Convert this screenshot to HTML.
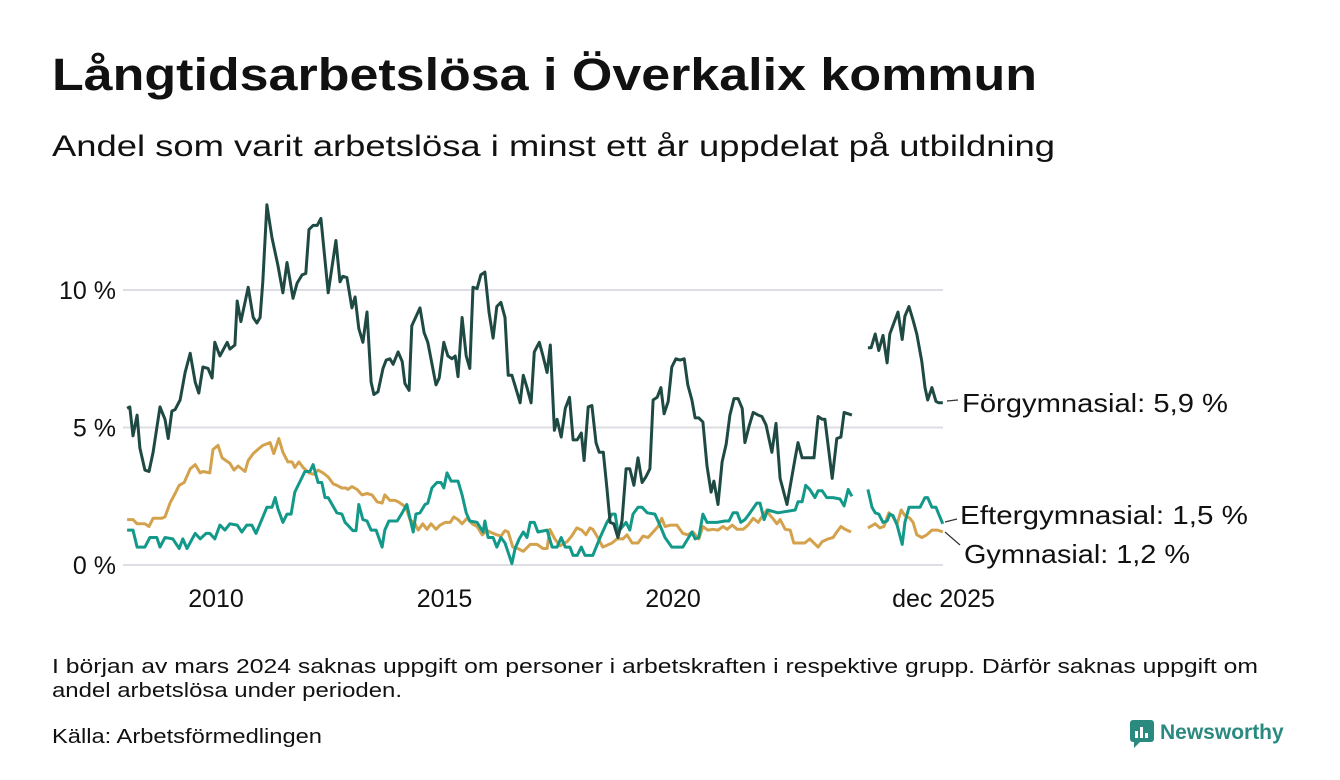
<!DOCTYPE html>
<html><head><meta charset="utf-8"><style>
html,body{margin:0;padding:0;background:#fff;}
svg{display:block;font-family:"Liberation Sans",sans-serif;}
</style></head><body>
<svg id="chart" width="1340" height="780" viewBox="0 0 1340 780">
<text x="52" y="90" font-size="45" font-weight="bold" fill="#111" textLength="985" lengthAdjust="spacingAndGlyphs">Långtidsarbetslösa i Överkalix kommun</text>
<text x="52" y="156" font-size="30" fill="#111" textLength="1003" lengthAdjust="spacingAndGlyphs">Andel som varit arbetslösa i minst ett år uppdelat på utbildning</text>
<g id="grid"></g>
<g id="yticks"></g>
<g id="xticks"></g>
<g id="series"></g>
<g>
<line x1="947" y1="401" x2="958" y2="400" stroke="#333" stroke-width="1.2"/>
<text x="962" y="412" font-size="26" fill="#111" textLength="266" lengthAdjust="spacingAndGlyphs">Förgymnasial: 5,9 %</text>
<line x1="945" y1="522" x2="957" y2="519" stroke="#333" stroke-width="1.2"/>
<text x="960" y="524" font-size="26" fill="#111" textLength="288" lengthAdjust="spacingAndGlyphs">Eftergymnasial: 1,5 %</text>
<line x1="945" y1="532" x2="960" y2="545" stroke="#333" stroke-width="1.2"/>
<text x="964" y="563" font-size="26" fill="#111" textLength="226" lengthAdjust="spacingAndGlyphs">Gymnasial: 1,2 %</text>
</g>
<text x="52" y="673" font-size="20" fill="#111" textLength="1206" lengthAdjust="spacingAndGlyphs">I början av mars 2024 saknas uppgift om personer i arbetskraften i respektive grupp. Därför saknas uppgift om</text>
<text x="52" y="697" font-size="20" fill="#111" textLength="350" lengthAdjust="spacingAndGlyphs">andel arbetslösa under perioden.</text>
<text x="52" y="743" font-size="20" fill="#111" textLength="270" lengthAdjust="spacingAndGlyphs">Källa: Arbetsförmedlingen</text>
<g>
<rect x="1130" y="720" width="24" height="22" rx="3" fill="#2a8a80"/>
<polygon points="1134,742 1140,742 1134,748" fill="#2a8a80"/>
<rect x="1135" y="731" width="3" height="7" fill="#fff"/><rect x="1140" y="727" width="3" height="11" fill="#fff"/><rect x="1145" y="733" width="3" height="5" fill="#fff"/>
<text x="1160" y="739" font-size="21" font-weight="bold" fill="#2a8a80">Newsworthy</text>
</g>
</svg>
<script>
const yTicks=[0,5,10];
const yTickLabels=["0 %","5 %","10 %"];
const xTicks=[2010,2015,2020,2025.92];
const xTickLabels=["2010","2015","2020","dec 2025"];
const darkDates=[2008.12,2008.18,2008.25,2008.34,2008.40,2008.51,2008.60,2008.69,2008.84,2008.95,2009.02,2009.10,2009.17,2009.28,2009.39,2009.50,2009.61,2009.69,2009.78,2009.89,2009.98,2010.04,2010.15,2010.31,2010.37,2010.48,2010.53,2010.61,2010.77,2010.88,2010.96,2011.03,2011.09,2011.18,2011.29,2011.42,2011.53,2011.62,2011.75,2011.84,2011.95,2012.03,2012.10,2012.19,2012.28,2012.36,2012.52,2012.69,2012.78,2012.84,2012.93,2013.04,2013.11,2013.19,2013.28,2013.37,2013.46,2013.52,2013.61,2013.72,2013.79,2013.87,2013.94,2014.05,2014.14,2014.20,2014.29,2014.35,2014.53,2014.62,2014.70,2014.88,2014.95,2015.05,2015.14,2015.23,2015.30,2015.36,2015.45,2015.54,2015.62,2015.69,2015.78,2015.86,2015.95,2016.04,2016.13,2016.21,2016.30,2016.39,2016.46,2016.54,2016.65,2016.72,2016.79,2016.87,2016.96,2017.03,2017.14,2017.22,2017.31,2017.38,2017.47,2017.53,2017.62,2017.71,2017.80,2017.88,2017.97,2018.06,2018.12,2018.21,2018.29,2018.38,2018.45,2018.54,2018.62,2018.69,2018.77,2018.86,2018.95,2019.04,2019.12,2019.21,2019.30,2019.39,2019.47,2019.56,2019.63,2019.72,2019.80,2019.87,2019.96,2020.04,2020.13,2020.22,2020.31,2020.39,2020.48,2020.55,2020.63,2020.72,2020.81,2020.90,2020.96,2021.05,2021.14,2021.23,2021.31,2021.40,2021.49,2021.58,2021.64,2021.73,2021.82,2021.93,2022.01,2022.10,2022.23,2022.32,2022.41,2022.56,2022.74,2022.80,2022.89,2023.02,2023.15,2023.24,2023.33,2023.39,2023.55,2023.65,2023.74,2023.81,2023.90,2023.98,2024.15,2024.33,2024.40,2024.49,2024.57,2024.66,2024.75,2024.81,2024.90,2024.99,2025.08,2025.14,2025.23,2025.32,2025.40,2025.51,2025.58,2025.64,2025.73,2025.82,2025.88,2025.97];
const darkValues=[5.7,5.75,4.7,5.45,4.25,3.45,3.4,4.1,5.75,5.3,4.6,5.6,5.65,6.0,7.0,7.7,6.65,6.25,7.2,7.15,6.8,8.1,7.6,8.1,7.85,8.0,9.6,8.85,10.1,9.0,8.8,9.0,10.3,13.1,11.9,10.9,9.9,11.0,9.7,10.25,10.55,10.6,12.2,12.35,12.35,12.6,9.9,11.8,10.3,10.5,10.45,9.35,9.75,8.6,8.1,9.2,6.65,6.2,6.3,7.15,7.45,7.5,7.3,7.75,7.4,6.6,6.35,8.7,9.35,8.45,8.1,6.55,6.8,8.1,7.6,7.5,7.6,6.85,9.0,7.6,7.15,10.1,10.05,10.55,10.65,9.2,8.25,9.4,9.55,9.0,6.9,6.9,6.3,5.9,6.9,6.45,5.9,7.75,8.1,7.6,7.0,8.0,4.9,5.3,4.65,5.7,6.1,4.55,4.55,4.8,3.8,5.75,5.8,4.45,4.1,4.1,2.8,1.55,1.5,1.0,1.6,3.5,3.5,2.9,3.9,3.0,3.2,3.5,6.0,6.1,6.45,5.5,5.95,7.2,7.5,7.45,7.5,6.55,6.0,5.35,5.35,5.2,3.6,2.65,3.05,2.2,3.75,4.4,5.45,6.05,6.05,5.7,4.45,5.05,5.55,5.45,5.4,5.1,4.1,5.15,3.15,2.2,3.9,4.45,3.9,3.9,3.9,5.4,5.3,5.3,3.15,4.6,4.65,5.55,5.5,5.45,null,7.9,7.9,8.4,7.8,8.35,7.35,8.4,8.8,9.2,8.2,9.05,9.4,8.9,8.4,7.4,6.45,6.0,6.45,5.95,5.9,5.9];
const tealDates=[2008.12,2008.25,2008.34,2008.51,2008.62,2008.77,2008.84,2008.95,2009.12,2009.26,2009.34,2009.43,2009.61,2009.72,2009.85,2009.93,2010.04,2010.15,2010.26,2010.37,2010.53,2010.63,2010.74,2010.85,2010.94,2011.18,2011.29,2011.36,2011.42,2011.53,2011.62,2011.71,2011.79,2012.01,2012.12,2012.19,2012.30,2012.38,2012.45,2012.52,2012.71,2012.82,2012.89,2012.95,2013.06,2013.13,2013.19,2013.28,2013.37,2013.46,2013.57,2013.70,2013.76,2013.85,2014.03,2014.14,2014.24,2014.38,2014.44,2014.53,2014.64,2014.70,2014.79,2014.90,2014.99,2015.05,2015.12,2015.21,2015.36,2015.45,2015.54,2015.62,2015.78,2015.91,2015.95,2016.02,2016.13,2016.21,2016.30,2016.39,2016.54,2016.61,2016.70,2016.79,2016.87,2016.94,2017.03,2017.11,2017.31,2017.42,2017.53,2017.62,2017.71,2017.81,2017.88,2017.97,2018.06,2018.14,2018.31,2018.47,2018.62,2018.73,2018.80,2018.86,2019.04,2019.12,2019.19,2019.30,2019.39,2019.50,2019.67,2019.78,2019.89,2020.04,2020.28,2020.39,2020.48,2020.55,2020.63,2020.72,2020.81,2021.03,2021.20,2021.29,2021.38,2021.47,2021.55,2021.64,2021.73,2021.90,2021.97,2022.06,2022.14,2022.36,2022.74,2022.80,2022.89,2022.97,2023.06,2023.17,2023.24,2023.33,2023.43,2023.57,2023.72,2023.81,2023.90,2023.98,2024.15,2024.33,2024.42,2024.49,2024.57,2024.66,2024.75,2024.81,2024.88,2024.97,2025.08,2025.14,2025.23,2025.36,2025.47,2025.58,2025.64,2025.73,2025.82,2025.88,2025.97];
const tealValues=[1.27,1.27,0.65,0.65,1.0,1.0,0.65,1.0,0.95,0.6,0.95,0.6,1.15,0.95,1.15,1.15,0.95,1.45,1.27,1.5,1.45,1.2,1.45,1.45,1.15,2.1,2.1,2.45,2.05,1.55,1.85,1.85,2.65,3.4,3.4,3.65,3.0,3.0,2.45,2.45,1.9,1.85,1.55,1.45,1.25,1.25,2.2,1.65,1.6,1.27,1.27,0.65,1.27,1.6,1.6,1.9,2.2,1.2,1.85,1.9,2.2,2.25,2.8,3.0,3.0,2.8,3.35,3.05,3.05,2.55,1.9,1.6,1.55,1.2,1.6,1.0,1.0,0.65,1.0,0.8,0.05,0.6,0.95,1.2,1.0,1.55,1.55,1.2,1.27,0.65,0.65,1.0,0.65,0.65,0.35,0.35,0.65,0.35,0.35,1.0,1.55,1.85,1.85,1.2,1.55,1.27,1.85,2.1,2.1,1.9,1.85,1.45,1.0,0.65,0.65,0.95,1.2,0.95,1.0,1.85,1.55,1.55,1.6,1.6,1.9,1.9,1.55,1.65,1.85,2.25,2.25,1.65,2.0,1.9,2.0,2.3,2.3,2.9,2.75,2.45,2.7,2.7,2.45,2.45,2.4,2.15,2.75,2.5,null,2.75,2.1,1.9,1.85,1.55,1.6,1.85,1.8,1.45,0.75,1.55,2.1,2.1,2.1,2.45,2.45,2.1,2.1,1.85,1.5];
const orangeDates=[2008.12,2008.25,2008.34,2008.51,2008.60,2008.69,2008.88,2008.95,2009.06,2009.17,2009.26,2009.37,2009.50,2009.61,2009.72,2009.78,2009.93,2010.00,2010.11,2010.20,2010.28,2010.37,2010.46,2010.55,2010.70,2010.77,2010.88,2010.98,2011.09,2011.25,2011.33,2011.44,2011.53,2011.64,2011.73,2011.79,2011.88,2011.97,2012.10,2012.21,2012.30,2012.41,2012.52,2012.63,2012.71,2012.82,2012.91,2012.95,2013.04,2013.15,2013.26,2013.37,2013.48,2013.59,2013.70,2013.76,2013.87,2013.98,2014.05,2014.14,2014.22,2014.31,2014.42,2014.49,2014.59,2014.68,2014.77,2014.88,2014.97,2015.08,2015.19,2015.27,2015.36,2015.45,2015.56,2015.67,2015.78,2015.89,2016.00,2016.06,2016.21,2016.30,2016.39,2016.46,2016.56,2016.67,2016.79,2016.94,2017.09,2017.22,2017.31,2017.37,2017.48,2017.59,2017.75,2017.85,2017.96,2018.07,2018.16,2018.25,2018.31,2018.42,2018.53,2018.73,2018.84,2018.97,2019.06,2019.17,2019.30,2019.41,2019.52,2019.63,2019.74,2019.82,2019.89,2020.02,2020.15,2020.28,2020.39,2020.50,2020.63,2020.72,2020.83,2020.94,2021.05,2021.16,2021.25,2021.36,2021.47,2021.60,2021.71,2021.82,2021.93,2022.03,2022.12,2022.19,2022.25,2022.34,2022.41,2022.52,2022.63,2022.71,2022.95,2023.06,2023.24,2023.33,2023.46,2023.57,2023.65,2023.74,2023.83,2023.96,2024.15,2024.33,2024.49,2024.59,2024.68,2024.79,2024.88,2024.97,2025.06,2025.14,2025.25,2025.32,2025.40,2025.51,2025.62,2025.73,2025.86,2025.97];
const orangeValues=[1.65,1.65,1.5,1.5,1.4,1.7,1.7,1.75,2.25,2.6,2.9,3.0,3.5,3.65,3.35,3.4,3.35,4.2,4.35,3.9,3.8,3.7,3.45,3.6,3.4,3.8,4.05,4.2,4.35,4.45,4.05,4.6,4.1,3.75,3.75,3.55,3.75,3.55,3.35,3.3,3.45,3.35,3.2,2.95,2.9,2.8,2.8,2.75,2.85,2.75,2.55,2.6,2.55,2.3,2.25,2.55,2.35,2.35,2.3,2.2,2.1,1.65,1.5,1.27,1.5,1.3,1.5,1.3,1.45,1.55,1.55,1.75,1.65,1.5,1.7,1.5,1.4,1.1,1.25,1.2,1.1,1.05,1.25,1.2,0.65,0.6,0.5,0.75,0.75,0.6,0.6,1.3,0.95,0.7,0.85,1.05,1.35,1.27,1.1,1.35,1.3,1.0,0.65,0.8,0.95,0.95,1.1,0.8,0.8,1.05,1.0,1.2,1.4,1.7,1.4,1.45,1.45,1.15,1.1,1.2,0.95,1.4,1.27,1.3,1.27,1.4,1.3,1.45,1.3,1.3,1.45,1.7,1.55,1.8,2.0,1.8,1.7,1.5,1.65,1.3,1.27,0.8,0.8,0.95,0.65,0.85,0.95,1.0,1.2,1.4,1.3,1.2,null,1.35,1.5,1.35,1.4,1.9,1.75,1.5,2.0,1.8,1.7,1.55,1.1,1.0,1.1,1.27,1.27,1.2];

const NS="http://www.w3.org/2000/svg";
const X0=123,X1=943;
function xs(t){return 213+(t-2010)*45.7;}
function ys(v){return 565-v*27.5;}
const grid=document.getElementById('grid'),yt=document.getElementById('yticks'),xt=document.getElementById('xticks'),ser=document.getElementById('series');
yTicks.forEach((v,i)=>{
  const l=document.createElementNS(NS,'line');
  l.setAttribute('x1',X0);l.setAttribute('x2',X1);l.setAttribute('y1',ys(v));l.setAttribute('y2',ys(v));
  l.setAttribute('stroke','#dedde3');l.setAttribute('stroke-width','2');
  
  
  grid.appendChild(l);
  const t=document.createElementNS(NS,'text');
  t.setAttribute('x',116);t.setAttribute('y',ys(v)+9);t.setAttribute('text-anchor','end');t.setAttribute('font-size','25');t.setAttribute('fill','#111');
  t.textContent=yTickLabels[i];
  
  
  yt.appendChild(t);
});
xTicks.forEach((v,i)=>{
  const t=document.createElementNS(NS,'text');
  t.setAttribute('x',xs(v)+3);t.setAttribute('y',607);t.setAttribute('text-anchor','middle');t.setAttribute('font-size','25');t.setAttribute('fill','#111');
  t.textContent=xTickLabels[i];
  
  
  xt.appendChild(t);
});
function drawSeries(dates,vals,color,name){
  let d='',pen=false;
  dates.forEach((t,i)=>{
    const v=vals[i];
    if(v===null){pen=false;return;}
    d+=(pen?'L':'M')+xs(t).toFixed(1)+','+ys(v).toFixed(1);pen=true;
  });
  const p=document.createElementNS(NS,'path');
  p.setAttribute('d',d);p.setAttribute('fill','none');p.setAttribute('stroke',color);p.setAttribute('stroke-width','3');p.setAttribute('stroke-linejoin','round');
  
  
  ser.appendChild(p);
}
drawSeries(orangeDates,orangeValues,'#d4a24c','line-gymnasial');
drawSeries(tealDates,tealValues,'#13998a','line-eftergymnasial');
drawSeries(darkDates,darkValues,'#1f4a43','line-forgymnasial');
</script>
</body></html>
